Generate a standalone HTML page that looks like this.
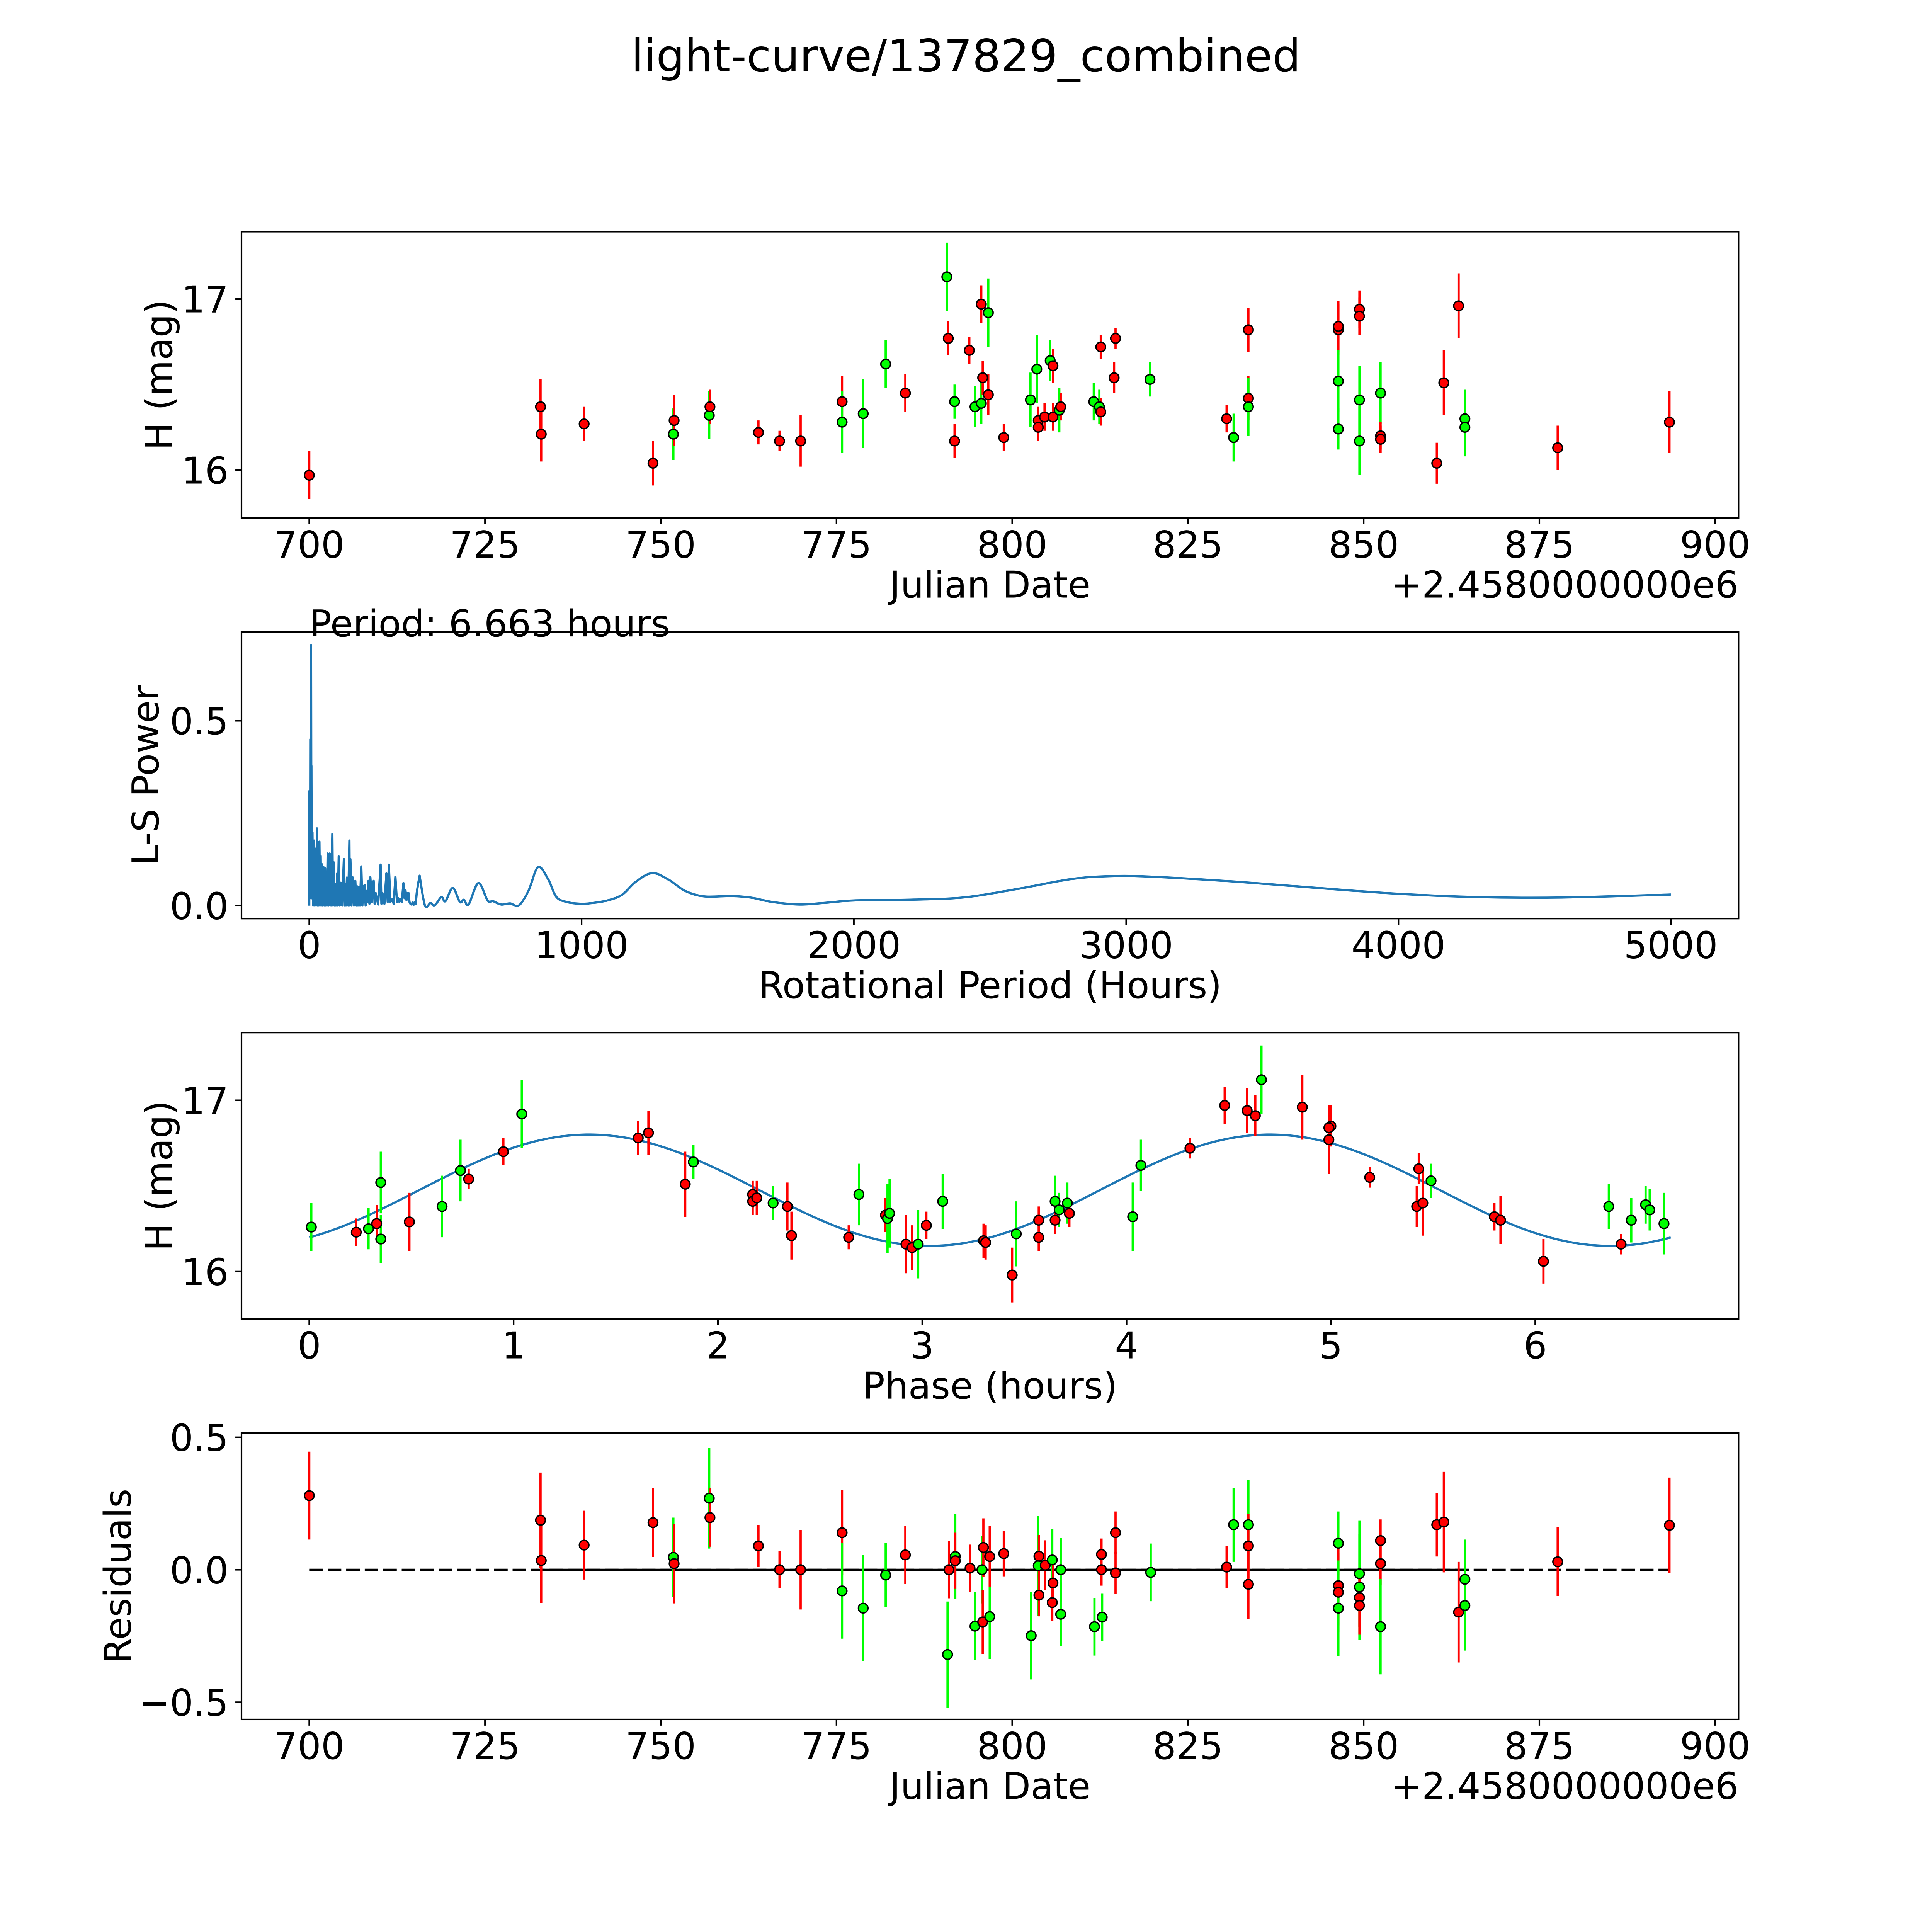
<!DOCTYPE html>
<html><head><meta charset="utf-8">
<style>
html,body{margin:0;padding:0;background:#fff;overflow:hidden;width:100%;height:100%;}
svg{display:block;width:100vw;height:100vh;}
text{font-family:"DejaVu Sans","Liberation Sans",sans-serif;fill:#000;}
</style></head>
<body>
<svg id="fig" viewBox="0 0 1568 1568" preserveAspectRatio="none" xmlns="http://www.w3.org/2000/svg">
<rect x="0" y="0" width="1568" height="1568" fill="#fff"/>
<text x="784" y="58" font-size="36.3" text-anchor="middle">light-curve/137829_combined</text>
</svg>
<script>
// ---------- Panel 1: light curve ----------
const lcJd  = [700,732.9,733,739.1,748.9,751.8,751.9,756.9,757,763.9,766.9,769.9,775.8,775.8,778.8,782,784.8,790.7,790.9,791.8,791.8,793.9,794.7,795.6,795.6,795.8,796.6,796.6,798.8,802.6,803.5,803.7,803.7,804.6,805.4,805.8,805.8,806.7,806.9,811.6,812.6,812.4,812.6,814.7,814.5,819.6,830.5,831.5,833.6,833.6,833.6,846.4,846.4,846.4,846.4,849.4,849.4,849.4,849.4,852.4,852.4,852.4,860.4,861.4,863.5,864.4,864.4,877.6,893.5];
const lcMag = [15.97,16.37,16.21,16.27,16.04,16.21,16.29,16.32,16.37,16.22,16.17,16.17,16.4,16.28,16.33,16.62,16.45,17.13,16.77,16.4,16.17,16.7,16.37,16.39,16.97,16.54,16.92,16.44,16.19,16.41,16.59,16.29,16.25,16.31,16.64,16.61,16.31,16.35,16.37,16.4,16.72,16.37,16.34,16.77,16.54,16.53,16.3,16.19,16.82,16.42,16.37,16.82,16.84,16.52,16.24,16.94,16.9,16.41,16.17,16.45,16.2,16.18,16.04,16.51,16.96,16.3,16.25,16.13,16.28];
const lcErr = [0.14,0.16,0.16,0.1,0.13,0.15,0.15,0.14,0.1,0.07,0.06,0.15,0.15,0.18,0.2,0.14,0.11,0.2,0.1,0.1,0.1,0.08,0.12,0.12,0.11,0.1,0.2,0.12,0.08,0.16,0.2,0.08,0.08,0.08,0.12,0.1,0.08,0.13,0.08,0.11,0.07,0.1,0.08,0.06,0.09,0.1,0.08,0.14,0.13,0.13,0.17,0.15,0.15,0.18,0.12,0.11,0.11,0.2,0.2,0.18,0.08,0.08,0.12,0.19,0.19,0.17,0.17,0.13,0.18];
const lcBand= ["r","r","r","r","r","g","r","g","r","r","r","r","r","g","g","g","r","g","r","g","r","r","g","g","r","r","g","r","r","g","g","r","r","r","g","r","r","g","r","g","r","g","r","r","r","g","r","g","r","r","g","r","r","g","g","r","r","g","g","g","r","r","r","r","r","g","g","r","r"];
const jdTicks = [700,725,750,775,800,825,850,875,900];
const magTicks = [16,17];

// ---------- Panel 2: periodogram ----------
const lsPeriod = [0,0.4,1,2,3,4,5,6,6.663,7.3,7.9,9,11.7,14,17.7,20,22.2,25,28.3,30.5,32.8,35,37.3,39.5,41.8,44,46.4,49,52.4,55,58.4,60.5,62.9,65,67.5,71,75,80,84.8,87,90.1,92,94.6,98,102.9,105,108.2,112,115.7,121,127,130,132.3,135,138.3,143,147.4,149,151.1,155,158.7,164,169.2,173,176,179,181.3,186,191.1,195,198.6,201,203.2,207,211.5,214,217.5,221,224.3,230,236.4,240,243.9,253,262,265,268.8,276,283.1,288,292.2,298,304.3,310,316.3,322,326.9,331,334.4,340,345.7,350,353.2,357,360.8,362,364.5,368,372.1,376,379.6,383,387.1,391,394.7,400,405.3];
const lsPower  = [0,0.31,0.05,0.2,0.02,0.45,0.15,0.6,0.705,0.37,0.378,0.02,0.198,0,0.176,0,0.154,0,0.209,0,0.17,0,0.173,0,0.134,0,0.112,0,0.104,0,0.101,0,0.084,0,0.141,0,0.141,0,0.194,0,0.117,0,0.059,0,0.087,0,0.133,0,0.062,0,0.126,0,0.059,0,0.076,0,0.176,0,0.126,0,0.077,0,0.067,0,0.052,0,0.051,0,0.106,0,0.053,0.01,0.056,0,0.04,0.01,0.067,0.005,0.077,0.01,0.067,0.005,0.034,0.003,0.111,0.005,0.034,0.005,0.087,0.01,0.111,0.01,0.017,0.005,0.078,0.01,0.02,0.01,0.017,0.01,0.061,0.02,0.042,0.015,0.034,0.02,0.034,0.01,0.004,0.003,0.009,0.002,0.009,0.004,0.035,0.06,0.081];
const lsSmoothP = [405.3,425,445,460,485,500,527,553,568,585,621,655,675,705,738,769,805,840,877,907,945,1000,1050,1100,1150,1200,1260,1320,1380,1450,1550,1620,1700,1800,1900,2000,2200,2400,2600,2800,2950,3100,3400,3700,4000,4300,4600,5000];
const lsSmoothPow = [0.081,0.0,0.007,0.0,0.023,0.012,0.048,0.01,0.016,0.003,0.061,0.014,0.012,0.003,0.006,0.0,0.04,0.104,0.072,0.024,0.01,0.005,0.008,0.015,0.03,0.065,0.088,0.07,0.04,0.025,0.026,0.022,0.01,0.003,0.008,0.014,0.016,0.022,0.045,0.072,0.08,0.078,0.065,0.048,0.032,0.023,0.022,0.03];
const periodTicks = [0,1000,2000,3000,4000,5000];
const powerTicks = [0.0,0.5];
const bestPeriodLabel = ["Period: 6.663 hours"];

// ---------- Panel 3: phased curve ----------
const phPhase = [0.01,0.23,0.29,0.33,0.35,0.35,0.49,0.65,0.74,0.78,0.95,1.04,1.61,1.66,1.84,1.88,2.17,2.17,2.19,2.27,2.34,2.36,2.64,2.69,2.82,2.83,2.84,2.92,2.95,2.98,3.02,3.1,3.3,3.31,3.44,3.46,3.57,3.57,3.65,3.65,3.67,3.71,3.72,4.03,4.07,4.31,4.48,4.59,4.63,4.66,4.86,4.99,5.0,4.99,5.19,5.42,5.43,5.45,5.49,5.8,5.83,6.04,6.36,6.42,6.47,6.54,6.56,6.63];
const phMag = [16.26,16.23,16.25,16.28,16.52,16.19,16.29,16.38,16.59,16.54,16.7,16.92,16.78,16.81,16.51,16.64,16.45,16.41,16.43,16.4,16.38,16.21,16.2,16.45,16.33,16.31,16.34,16.16,16.14,16.16,16.27,16.41,16.18,16.17,15.98,16.22,16.3,16.2,16.41,16.3,16.36,16.4,16.34,16.32,16.62,16.72,16.97,16.94,16.91,17.12,16.96,16.77,16.85,16.84,16.55,16.38,16.6,16.4,16.53,16.32,16.3,16.06,16.38,16.16,16.3,16.39,16.36,16.28];
const phErr = [0.14,0.08,0.12,0.11,0.18,0.14,0.17,0.18,0.18,0.06,0.08,0.2,0.1,0.13,0.19,0.1,0.08,0.08,0.1,0.1,0.14,0.14,0.07,0.18,0.1,0.2,0.2,0.17,0.13,0.2,0.08,0.16,0.1,0.1,0.16,0.19,0.08,0.08,0.15,0.08,0.1,0.12,0.08,0.2,0.15,0.06,0.11,0.13,0.12,0.2,0.19,0.2,0.12,0.12,0.06,0.12,0.09,0.19,0.1,0.08,0.14,0.13,0.13,0.06,0.13,0.11,0.12,0.18];
const phBand = ["g","r","g","r","g","g","r","g","g","r","r","g","r","r","r","g","r","r","r","g","r","r","r","g","r","g","g","r","r","g","r","g","r","r","r","g","r","r","g","r","g","g","r","g","g","r","r","r","r","g","r","r","r","r","r","r","r","r","g","r","r","r","g","r","g","g","g","g"];
const modelMean = [16.475];
const modelAmp = [0.325];
const modelPeakPhase = [1.37];
const modelCycle = [3.3315];
const phaseTicks = [0,1,2,3,4,5,6];

// ---------- Panel 4: residuals ----------
const resJd = [700,732.9,733,739.1,748.9,751.8,751.9,756.9,757,763.9,766.9,769.9,775.8,775.8,778.8,782,784.8,790.8,791.0,791.9,791.9,794.0,794.7,795.7,795.8,795.9,796.8,796.8,798.8,802.7,803.7,803.8,803.8,804.7,805.7,805.8,805.7,806.9,806.9,811.7,812.8,812.7,812.7,814.7,814.7,819.7,830.5,831.5,833.6,833.6,833.6,846.4,846.4,846.4,846.4,849.4,849.4,849.4,849.4,852.4,852.4,852.4,860.4,861.4,863.5,864.4,864.4,877.6,893.5];
const resVal = [0.28,0.187,0.035,0.093,0.178,0.047,0.023,0.27,0.197,0.09,0.0,0.0,0.14,-0.08,-0.145,-0.02,0.056,-0.32,0,0.05,0.034,0.006,-0.213,0,-0.197,0.084,-0.177,0.05,0.061,-0.249,0.015,0.051,-0.096,0.017,0.037,-0.05,-0.124,0,-0.168,-0.215,-0.179,0.058,0,0.14,-0.012,-0.01,0.01,0.17,0.17,0.09,-0.055,0.1,-0.06,-0.085,-0.145,-0.015,-0.065,-0.105,-0.135,0.11,0.023,-0.215,0.17,0.18,-0.16,-0.036,-0.135,0.03,0.168];
const resErr = [0.166,0.18,0.16,0.13,0.13,0.15,0.15,0.19,0.11,0.08,0.07,0.15,0.16,0.18,0.2,0.12,0.11,0.2,0.108,0.16,0.106,0.089,0.128,0.127,0.121,0.11,0.16,0.115,0.086,0.165,0.188,0.08,0.08,0.094,0.117,0.07,0.07,0.12,0.12,0.109,0.09,0.06,0.06,0.08,0.08,0.109,0.08,0.14,0.17,0.12,0.13,0.12,0.15,0.15,0.18,0.2,0.2,0.11,0.11,0.08,0.08,0.18,0.12,0.19,0.19,0.15,0.17,0.13,0.18];
const resBand = ["r","r","r","r","r","g","r","g","r","r","r","r","r","g","g","g","r","g","r","g","r","r","g","g","r","r","g","r","r","g","g","r","r","r","g","r","r","g","g","g","g","r","r","r","r","g","r","g","g","r","r","g","r","r","g","g","g","r","r","r","r","g","r","r","r","g","g","r","r"];
const resTicks = [-0.5,0.0,0.5];
const resTickLabels = ["\u22120.5","0.0","0.5"];
const zeroLineRange = [700,893.5];
const fitLineRange = [732.9,864.4];

const NS = "http://www.w3.org/2000/svg";
const svg = document.getElementById("fig");
const FS = 30;
function mk(tag, attrs, parent){
  const e = document.createElementNS(NS, tag);
  for (const k in attrs) e.setAttribute(k, attrs[k]);
  (parent||svg).appendChild(e);
  return e;
}
const COL = {r:"#ff0000", g:"#00ff00"};

function makePanel(name, top, xv0, xp0, xv1, xp1, yv0, yp0, yv1, yp1){
  const p = {left:196, right:1411, top:top, bottom:top+232.5};
  p.x = v => xp0 + (v - xv0) * (xp1 - xp0) / (xv1 - xv0);
  p.y = v => yp0 + (v - yv0) * (yp1 - yp0) / (yv1 - yv0);
  const g = mk("g", {});
  
  
  p.g = g;
  const cid = name + "-clip";
  const cp = mk("clipPath", {id: cid}, g);
  mk("rect", {x:p.left, y:p.top, width:p.right-p.left, height:p.bottom-p.top}, cp);
  p.plot = mk("g", {"clip-path":"url(#"+cid+")"}, g);
  
  
  return p;
}
function frame(p, name){
  const r = mk("rect", {x:p.left, y:p.top, width:p.right-p.left, height:p.bottom-p.top, fill:"none", stroke:"#000", "stroke-width":1.3}, p.g);
  
  
}
function xTicks(p, vals, labels, name){
  vals.forEach((v,i)=>{
    const X = p.x(v);
    const t = mk("line", {x1:X, x2:X, y1:p.bottom, y2:p.bottom+5, stroke:"#000", "stroke-width":1.3}, p.g);
    
    
    const tx = mk("text", {x:X, y:p.bottom+32, "font-size":FS, "text-anchor":"middle"}, p.g);
    tx.textContent = labels[i];
    
    
  });
}
function yTicks(p, vals, labels, name){
  vals.forEach((v,i)=>{
    const Y = p.y(v);
    const t = mk("line", {x1:p.left-5, x2:p.left, y1:Y, y2:Y, stroke:"#000", "stroke-width":1.3}, p.g);
    
    
    const tx = mk("text", {x:p.left-10.5, y:Y+10.9, "font-size":FS, "text-anchor":"end"}, p.g);
    tx.textContent = labels[i];
    
    
  });
}
function xLabel(p, txt, name){
  const t = mk("text", {x:(p.left+p.right)/2, y:p.bottom+64.5, "font-size":FS, "text-anchor":"middle"}, p.g);
  t.textContent = txt;
  
  
}
function yLabel(p, txt, bx, name){
  const cy = (p.top+p.bottom)/2;
  const t = mk("text", {x:bx, y:cy, "font-size":FS, "text-anchor":"middle", transform:"rotate(-90 "+bx+" "+cy+")"}, p.g);
  t.textContent = txt;
  
  
}
function offsetText(p, name){
  const t = mk("text", {x:p.right, y:p.bottom+64.5, "font-size":FS, "text-anchor":"end"}, p.g);
  t.textContent = "+2.4580000000e6";
  
  
}
function errPoints(p, xs, ys, es, bands, name){
  const eg = mk("g", {}, p.plot);
  const mg = mk("g", {}, p.plot);
  xs.forEach((xv,i)=>{
    const X = p.x(xv), c = COL[bands[i]];
    const l = mk("line", {x1:X, x2:X, y1:p.y(ys[i]-es[i]), y2:p.y(ys[i]+es[i]), stroke:c, "stroke-width":1.8}, eg);
    
    
    const m = mk("circle", {cx:X, cy:p.y(ys[i]), r:3.9, fill:c, stroke:"#000", "stroke-width":1.1}, mg);
    
    
  });
}

// Panel 1
const p1 = makePanel("light-curve-panel", 188, 700, 251, 900, 1392, 16, 381.5, 17, 242.7);
errPoints(p1, lcJd, lcMag, lcErr, lcBand, "light-curve");
frame(p1, "light-curve");
xTicks(p1, jdTicks, jdTicks.map(String), "light-curve");
yTicks(p1, magTicks, magTicks.map(String), "light-curve");
xLabel(p1, "Julian Date", "light-curve");
yLabel(p1, "H (mag)", 139.5, "light-curve");
offsetText(p1, "light-curve");

// Panel 2
const p2 = makePanel("periodogram-panel", 513, 0, 251, 5000, 1356, 0, 735, 0.5, 585);
let d = "";
lsPeriod.forEach((v,i)=>{ d += (i?"L":"M") + p2.x(v).toFixed(2) + "," + p2.y(lsPower[i]).toFixed(2); });
const sp = lsSmoothP.map((v,i)=>[p2.x(v), p2.y(lsSmoothPow[i])]);
for (let i=0;i<sp.length-1;i++){
  const a = sp[Math.max(0,i-1)], b = sp[i], c = sp[i+1], e = sp[Math.min(sp.length-1,i+2)];
  const c1 = [b[0]+(c[0]-a[0])/6, b[1]+(c[1]-a[1])/6];
  const c2 = [c[0]-(e[0]-b[0])/6, c[1]-(e[1]-b[1])/6];
  d += (i===0 ? "L"+b[0].toFixed(2)+","+b[1].toFixed(2) : "") + "C"+c1[0].toFixed(2)+","+c1[1].toFixed(2)+" "+c2[0].toFixed(2)+","+c2[1].toFixed(2)+" "+c[0].toFixed(2)+","+c[1].toFixed(2);
}
const lsLine = mk("path", {d:d, fill:"none", stroke:"#1f77b4", "stroke-width":1.8, "stroke-linejoin":"round"}, p2.plot);


frame(p2, "periodogram");
xTicks(p2, periodTicks, periodTicks.map(String), "periodogram");
yTicks(p2, powerTicks, powerTicks.map(v=>v.toFixed(1)), "periodogram");
xLabel(p2, "Rotational Period (Hours)", "periodogram");
yLabel(p2, "L-S Power", 128.5, "periodogram");
const pt = mk("text", {x:251, y:516.5, "font-size":FS}, p2.g);
pt.textContent = bestPeriodLabel[0];



// Panel 3
const p3 = makePanel("phase-panel", 838, 0, 251, 6, 1246, 16, 1032, 17, 893);
let md = "";
const N = 300, phMax = 6.663;
for (let i=0;i<=N;i++){
  const ph = phMax*i/N;
  const m = modelMean[0] + modelAmp[0]*Math.cos(2*Math.PI*(ph - modelPeakPhase[0])/modelCycle[0]);
  md += (i?"L":"M") + p3.x(ph).toFixed(2) + "," + p3.y(m).toFixed(2);
}
const ml = mk("path", {d:md, fill:"none", stroke:"#1f77b4", "stroke-width":1.8}, p3.plot);


errPoints(p3, phPhase, phMag, phErr, phBand, "phase");
frame(p3, "phase");
xTicks(p3, phaseTicks, phaseTicks.map(String), "phase");
yTicks(p3, magTicks, magTicks.map(String), "phase");
xLabel(p3, "Phase (hours)", "phase");
yLabel(p3, "H (mag)", 139.5, "phase");

// Panel 4
const p4 = makePanel("residuals-panel", 1163, 700, 251, 900, 1392, 0, 1274, 0.5, 1166.5);
const zl = mk("line", {x1:p4.x(zeroLineRange[0]), x2:p4.x(zeroLineRange[1]), y1:p4.y(0), y2:p4.y(0), stroke:"#000", "stroke-width":1.7, "stroke-dasharray":"11 4"}, p4.plot);


const fl = mk("line", {x1:p4.x(fitLineRange[0]), x2:p4.x(fitLineRange[1]), y1:p4.y(0), y2:p4.y(0), stroke:"#000", "stroke-width":1.7}, p4.plot);


errPoints(p4, resJd, resVal, resErr, resBand, "residuals");
frame(p4, "residuals");
xTicks(p4, jdTicks, jdTicks.map(String), "residuals");
yTicks(p4, resTicks, resTickLabels, "residuals");
xLabel(p4, "Julian Date", "residuals");
yLabel(p4, "Residuals", 106, "residuals");
offsetText(p4, "residuals");
</script>
</body></html>
